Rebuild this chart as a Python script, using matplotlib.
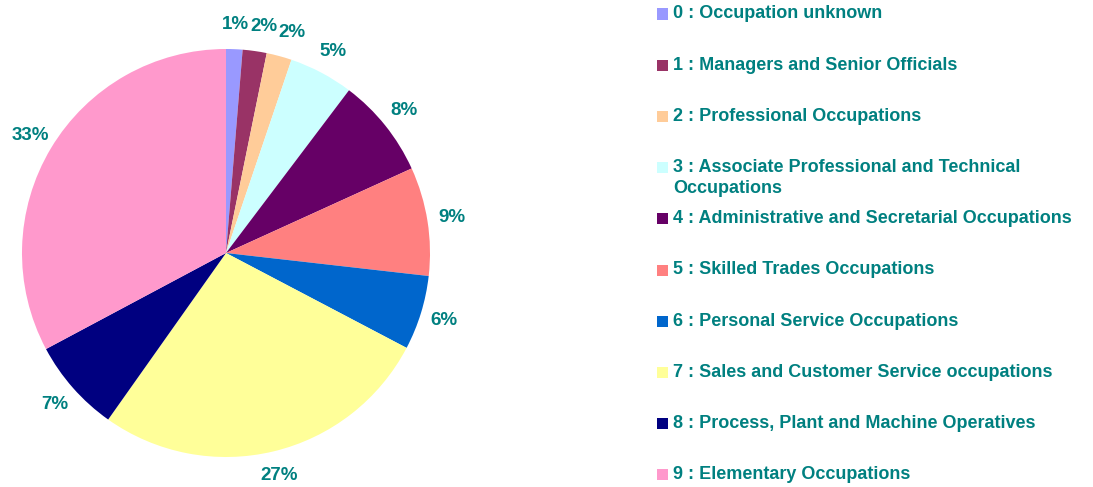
import matplotlib
matplotlib.use('Agg')
import matplotlib.pyplot as plt
from matplotlib.patches import Rectangle

plt.rcParams['font.family'] = ['Liberation Sans', 'DejaVu Sans']

# occupation shares (%)
codes = [0, 1, 2, 3, 4, 5, 6, 7, 8, 9]
names = ['Occupation unknown', 'Managers and Senior Officials', 'Professional Occupations',
         'Associate Professional and Technical\nOccupations',
         'Administrative and Secretarial Occupations', 'Skilled Trades Occupations',
         'Personal Service Occupations', 'Sales and Customer Service occupations',
         'Process, Plant and Machine Operatives', 'Elementary Occupations']
shares = [1.3, 1.9, 2.0, 5.1, 7.9, 8.6, 5.9, 27.1, 7.4, 32.8]
colors = ['#9999FF', '#993366', '#FFCC99', '#CCFFFF', '#660066',
          '#FF8080', '#0066CC', '#FFFF99', '#000080', '#FF99CC']
teal = '#008080'

W, H = 1093, 487
fig = plt.figure(figsize=(W / 100, H / 100), dpi=100)

# pie: centre (226, 253) px, radius 204 px
cx, cy, r = 226, 253, 204
ax = fig.add_axes([(cx - r) / W, (H - cy - r) / H, 2 * r / W, 2 * r / H])
wedges, texts, autotexts = ax.pie(shares, colors=colors, startangle=90, counterclock=False,
                                  autopct='%.0f%%', pctdistance=1.12,
                                  wedgeprops=dict(linewidth=0),
                                  textprops=dict(color=teal, fontsize=13.5, fontweight='bold'))
ax.set_xlim(-1, 1)
ax.set_ylim(-1, 1)

# push apart the crowded labels of the thin slices at the top
fig.canvas.draw()
rend = fig.canvas.get_renderer()
for a, b in zip(autotexts[:3], autotexts[1:4]):
    ba = a.get_window_extent(rend)
    bb = b.get_window_extent(rend)
    gap = ba.x1 + 1 - bb.x0
    if gap > 0 and ba.y0 < bb.y1 and bb.y0 < ba.y1:
        x, y = b.get_position()
        b.set_position((x + gap / r, y))

# legend drawn by hand so the wrapped entry lines up like the original
row0, step, lineh = 14, 51.2, 21
for i, (c, nm, col) in enumerate(zip(codes, names, colors)):
    y = row0 + i * step
    fig.patches.append(Rectangle((657 / W, 1 - (y + 5.5) / H), 11 / W, 11 / H,
                                 transform=fig.transFigure, facecolor=col,
                                 edgecolor='none'))
    lines = ('%d : %s' % (c, nm)).split('\n')
    for j, ln in enumerate(lines):
        fig.text(673 / W, 1 - (y + j * lineh) / H, ln, color=teal, fontsize=13,
                 fontweight='bold', va='center', ha='left')

fig.savefig('out.png', dpi=100)
